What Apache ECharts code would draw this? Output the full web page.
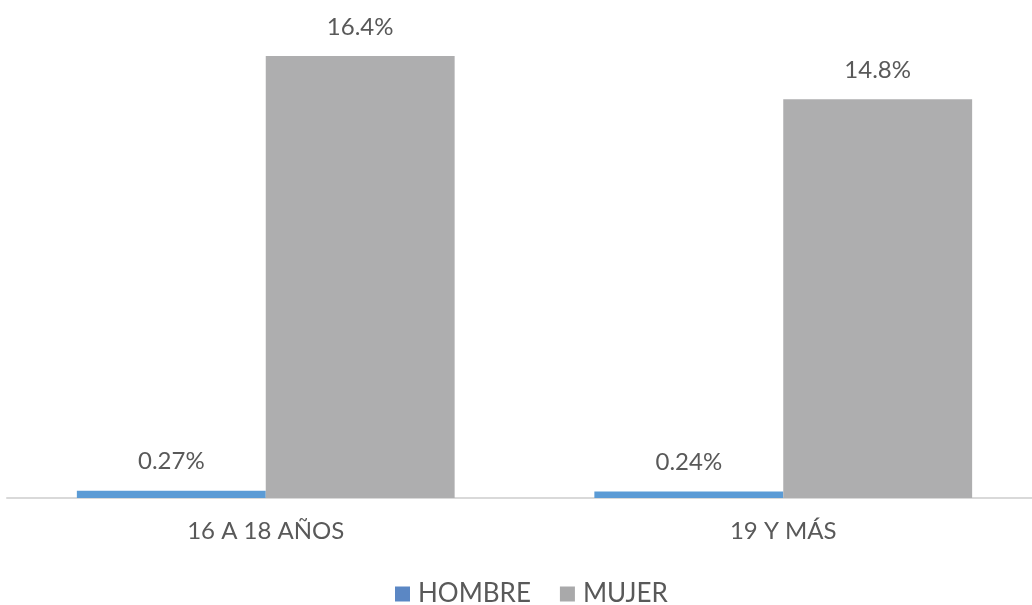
<!DOCTYPE html>
<html>
<head>
<meta charset="utf-8">
<script src="https://cdn.jsdelivr.net/npm/echarts@6/dist/echarts.min.js"></script>
<style>
  html, body { margin: 0; padding: 0; background: #fff; }
  #chart { width: 1032px; height: 605px; }
</style>
</head>
<body>
<div id="chart"></div>
<script>
const categories = ['16 A 18 AÑOS', '19 Y MÁS']
const hombre = [0.27, 0.24]
const mujer = [16.4, 14.8]
const seriesNames = ['HOMBRE', 'MUJER']

const textColor = '#595959'
const fontFamily = 'Lato, "Noto Sans", sans-serif'

const chart = echarts.init(document.getElementById('chart'))

const labelStyle = {
  show: true,
  position: 'top',
  distance: 17,
  color: textColor,
  fontSize: 24,
  fontFamily,
  formatter: (p) => p.value + '%',
}

chart.setOption({
  animation: false,
  backgroundColor: '#fff',
  // the plot runs a little past the right edge of the canvas
  grid: { left: 7, width: 1035, top: 13, bottom: 107, outerBoundsMode: 'none' },
  legend: {
    top: 576,
    left: 390,
    icon: 'rect',
    itemWidth: 15,
    itemHeight: 15,
    itemGap: 29,
    textStyle: { color: textColor, fontSize: 26, fontFamily, padding: [0, 0, 0, 3] },
    data: [
      { name: seriesNames[0], itemStyle: { color: '#5B87C4' } },
      { name: seriesNames[1], itemStyle: { color: '#A9A9AA' } },
    ],
  },
  xAxis: {
    type: 'category',
    data: categories,
    axisLine: { lineStyle: { color: '#D9D9D9', width: 2 } },
    axisTick: { show: false },
    axisLabel: { color: textColor, fontSize: 24, fontFamily, margin: 21 },
  },
  yAxis: {
    type: 'value',
    min: 0,
    max: 18,
    show: false,
    splitLine: { show: false },
  },
  series: [
    {
      name: seriesNames[0],
      type: 'bar',
      data: hombre,
      barGap: '0%',
      barCategoryGap: '27%',
      itemStyle: { color: '#5B9BD5' },
      label: labelStyle,
    },
    {
      name: seriesNames[1],
      type: 'bar',
      data: mujer,
      itemStyle: { color: '#AEAEAF' },
      label: labelStyle,
    },
  ],
})
</script>
</body>
</html>
